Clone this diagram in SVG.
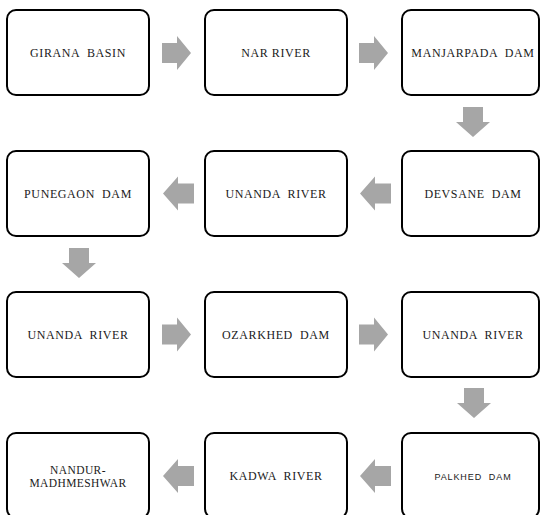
<svg xmlns="http://www.w3.org/2000/svg" width="540" height="515" viewBox="0 0 540 515">
<style>
.box{fill:#fff;stroke:#000;stroke-width:2}
.lbl{font-family:"Liberation Serif","Times New Roman",serif;font-size:12px;letter-spacing:0.6px;fill:#1a1a1a;text-anchor:middle;white-space:pre}
.two{font-size:11.5px;letter-spacing:0.4px}
.sans{font-family:"Liberation Sans",Arial,sans-serif;font-size:9px;letter-spacing:0.9px}
.arr{fill:#a6a6a6;stroke:none}
</style>
<rect width="540" height="515" fill="#fff"/>
<g id="connectors">
<path class="arr" d="M162,43 H177 V36 L191,53 L177,70 V63 H162 Z"/>
<path class="arr" d="M359,43 H374 V36 L388,53 L374,70 V63 H359 Z"/>
<path class="arr" d="M463,107 H483 V122 H490 L473,137 L456,122 H463 Z"/>
<path class="arr" d="M360,193.5 L375,176.5 V183.5 H391 V203.5 H375 V210.5 Z"/>
<path class="arr" d="M163,193.5 L178,176.5 V183.5 H194 V203.5 H178 V210.5 Z"/>
<path class="arr" d="M69,248 H89 V263 H96 L79,278 L62,263 H69 Z"/>
<path class="arr" d="M162,324.5 H177 V317.5 L191,334.5 L177,351.5 V344.5 H162 Z"/>
<path class="arr" d="M359,324.5 H374 V317.5 L388,334.5 L374,351.5 V344.5 H359 Z"/>
<path class="arr" d="M464,388 H484 V403 H491 L474,418 L457,403 H464 Z"/>
<path class="arr" d="M360,476 L375,459 V466 H391 V486 H375 V493 Z"/>
<path class="arr" d="M163,476 L178,459 V466 H194 V486 H178 V493 Z"/>
</g>
<g id="n1"><rect class="box" x="7" y="10" width="142" height="85" rx="9"/><text class="lbl" x="78" y="57">GIRANA  BASIN</text></g>
<g id="n2"><rect class="box" x="205" y="10" width="142" height="85" rx="9"/><text class="lbl" x="276" y="57">NAR RIVER</text></g>
<g id="n3"><rect class="box" x="402" y="10" width="137" height="85" rx="9"/><text class="lbl" x="473" y="57">MANJARPADA  DAM</text></g>
<g id="n4"><rect class="box" x="402" y="151" width="137" height="85" rx="9"/><text class="lbl" x="473" y="198">DEVSANE  DAM</text></g>
<g id="n5"><rect class="box" x="205" y="151" width="142" height="85" rx="9"/><text class="lbl" x="276" y="198">UNANDA  RIVER</text></g>
<g id="n6"><rect class="box" x="7" y="151" width="142" height="85" rx="9"/><text class="lbl" x="78" y="198">PUNEGAON  DAM</text></g>
<g id="n7"><rect class="box" x="7" y="292" width="142" height="85" rx="9"/><text class="lbl" x="78" y="339">UNANDA  RIVER</text></g>
<g id="n8"><rect class="box" x="205" y="292" width="142" height="85" rx="9"/><text class="lbl" x="276" y="339">OZARKHED  DAM</text></g>
<g id="n9"><rect class="box" x="402" y="292" width="137" height="85" rx="9"/><text class="lbl" x="473" y="339">UNANDA  RIVER</text></g>
<g id="n10"><rect class="box" x="402" y="433" width="137" height="85" rx="9"/><text class="lbl sans" x="473" y="480">PALKHED  DAM</text></g>
<g id="n11"><rect class="box" x="205" y="433" width="142" height="85" rx="9"/><text class="lbl" x="276" y="480">KADWA  RIVER</text></g>
<g id="n12"><rect class="box" x="7" y="433" width="142" height="85" rx="9"/><text class="lbl two" x="78" y="474">NANDUR-</text><text class="lbl two" x="78" y="487">MADHMESHWAR</text></g>
</svg>
